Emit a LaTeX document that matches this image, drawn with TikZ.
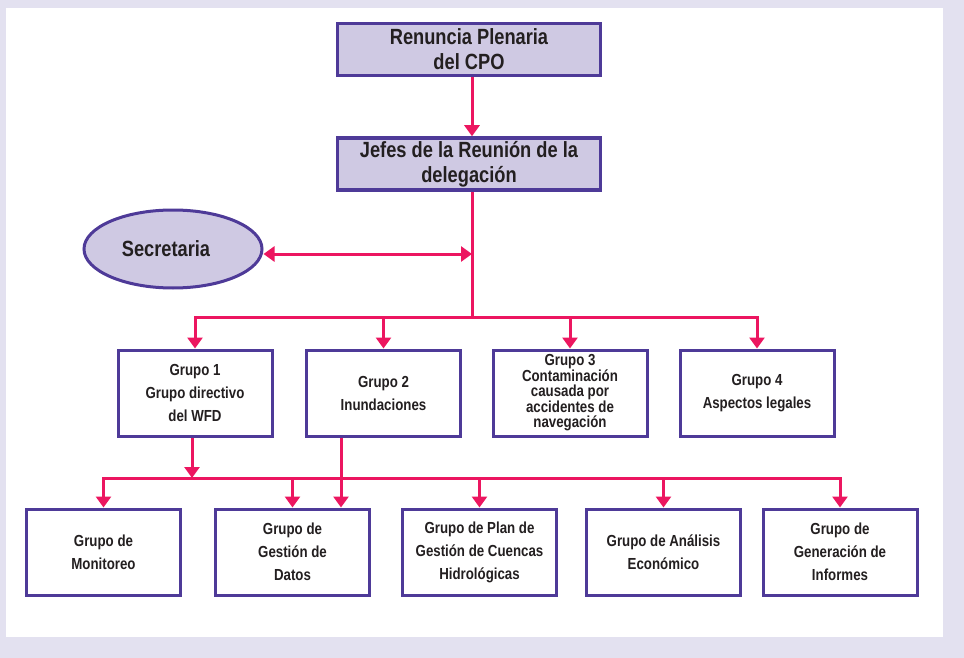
\documentclass[tikz,border=0pt]{standalone}
\usepackage{fontspec}
\setmainfont{Liberation Sans}[FakeStretch=0.83]
\usetikzlibrary{arrows.meta,shapes.geometric,calc}
\definecolor{bgc}{HTML}{E3E1F0}
\definecolor{boxfill}{HTML}{CFC9E3}
\definecolor{border}{HTML}{4E3A98}
\definecolor{conncol}{HTML}{EC1660}
\definecolor{txt}{HTML}{231F20}
\tikzset{
  topbox/.style={draw=border, line width=3.5pt, fill=boxfill, minimum width=263pt, minimum height=52pt, inner sep=0pt, align=center, text=txt, font=\bfseries\fontsize{22}{25}\selectfont},
  grpbox/.style={draw=border, line width=3pt, fill=white, minimum width=154pt, minimum height=86pt, inner sep=0pt, align=center, text=txt, font=\bfseries\fontsize{16}{23}\selectfont},
  secell/.style={ellipse, draw=border, line width=3pt, fill=boxfill, minimum width=178pt, minimum height=78pt, inner sep=0pt, text=txt, font=\bfseries\fontsize{22}{25}\selectfont},
  conn/.style={draw=conncol, line width=3pt},
  arr/.style={conn, -{Triangle[width=15pt,length=11pt]}},
  darr/.style={conn, {Triangle[width=15pt,length=11pt]}-{Triangle[width=15pt,length=11pt]}}
}
\begin{document}
\begin{tikzpicture}[x=1pt,y=-1pt]
\fill[bgc] (0,0) rectangle (964,658);
\fill[white] (6,8) rectangle (943,637);
\useasboundingbox (0,0) rectangle (964,658);

\node[topbox] (rp) at (469,49.5) {Renuncia Plenaria\\del CPO};
\node[topbox] (jefes) at (469,164) {Jefes de la Reunión de la\\delegación};
\node[secell] (sec) at (173,249) {\hspace*{-14pt}Secretaria};

\node[grpbox] (g1) at (195,393) {Grupo 1\\Grupo directivo\\del WFD};
\node[grpbox] (g2) at (383.5,393) {Grupo 2\\Inundaciones};
\node[grpbox, font=\bfseries\fontsize{16}{15.5}\selectfont] (g3) at (570,393) {Grupo 3\\Contaminación\\causada por\\accidentes de\\navegación};
\node[grpbox] (g4) at (757,393) {Grupo 4\\Aspectos legales};

\node[grpbox] (b1) at (103.5,552) {Grupo de\\Monitoreo};
\node[grpbox] (b2) at (292.5,552) {Grupo de\\Gestión de\\Datos};
\node[grpbox] (b3) at (479.5,552) {Grupo de Plan de\\Gestión de Cuencas\\Hidrológicas};
\node[grpbox] (b4) at (663.5,552) {Grupo de Análisis\\Económico};
\node[grpbox] (b5) at (840,552) {Grupo de\\Generación de\\Informes};

\coordinate (trunk) at (472,317);
\coordinate (sj) at (472,254);
\coordinate (bbar) at (192,478);

\draw[arr] (rp.south -| trunk) -- (jefes.north -| trunk);
\draw[conn] (jefes.south -| trunk) -- (trunk);
\draw[darr] (sec.east |- sj) -- (sj);

\draw[arr] (trunk) -| (g1.north);
\draw[arr] (trunk) -| (g2.north);
\draw[arr] (trunk) -| (g3.north);
\draw[arr] (trunk) -| (g4.north);

\draw[arr] (g1.south -| bbar) -- (bbar);
\draw[arr] (bbar) -| (b1.north);
\draw[arr] (bbar) -| (b2.north);
\draw[arr] (bbar) -| (b3.north);
\draw[arr] (bbar) -| (b4.north);
\draw[arr] (bbar) -| (b5.north);
\draw[arr] ([xshift=-42.5pt]g2.south) -- ([xshift=-42.5pt]g2.south |- b2.north);
\end{tikzpicture}
\end{document}
